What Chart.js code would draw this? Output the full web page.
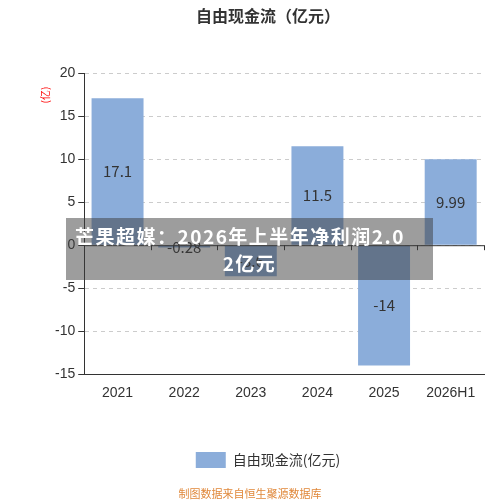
<!DOCTYPE html>
<html><head><meta charset="utf-8">
<script src="https://cdn.jsdelivr.net/npm/chart.js@4"></script>
<style>
body{margin:0;width:500px;height:500px;background:#fff;font-family:"Noto Sans CJK SC",sans-serif;position:relative;overflow:hidden}
#wrap{position:absolute;left:0;top:0;width:500px;height:500px}
#banner{position:absolute;left:66px;top:218px;width:367px;height:62px;background:rgba(60,60,60,0.5);color:#fff;font-weight:bold;font-size:19px;letter-spacing:1.5px;line-height:27px;text-align:left;padding:4px 0 0 9px;box-sizing:border-box;white-space:nowrap}
#banner span{display:block;text-align:center;padding-right:9px}
#foot{position:absolute;left:0;width:500px;top:485px;text-align:center;font-size:11px;color:#e0883a}
</style></head><body>
<div id="wrap"><canvas id="c" width="500" height="500"></canvas></div>
<div id="banner">芒果超媒：2026年上半年净利润2.0<span>2亿元</span></div>
<div id="foot">制图数据来自恒生聚源数据库</div>
<script>
const categories = ['2021', '2022', '2023', '2024', '2025', '2026H1'];
const cashFlow = [17.1, -0.28, -3.6, 11.5, -14, 9.99];
const yTicks = [20, 15, 10, 5, 0, -5, -10, -15];

const valueLabels = {
  id: 'valueLabels',
  afterDatasetsDraw(chart) {
    const ctx = chart.ctx;
    const meta = chart.getDatasetMeta(0);
    const y = chart.scales.y, x = chart.scales.x;
    const y0 = y.getPixelForValue(0);
    ctx.save();
    ctx.strokeStyle = '#333'; ctx.lineWidth = 1;
    ctx.beginPath(); ctx.moveTo(x.left, y0 + 0.5); ctx.lineTo(x.right, y0 + 0.5);
    for (let i = 0; i <= categories.length; i++) {
      const px = Math.round(x.left + (x.right - x.left) * i / categories.length) + 0.5;
      ctx.moveTo(px, y0); ctx.lineTo(px, y0 + 5);
    }
    ctx.stroke();
    ctx.fillStyle = '#333'; ctx.font = '15px "Noto Sans CJK SC", sans-serif';
    ctx.textAlign = 'center'; ctx.textBaseline = 'middle';
    meta.data.forEach((bar, i) => {
      const v = cashFlow[i];
      const cy = Math.abs(v) < 1 ? y0 + 2 : (bar.y + bar.base) / 2;
      ctx.fillText(String(v), bar.x, cy);
    });
    ctx.fillStyle = 'red'; ctx.font = '10px "Noto Sans CJK SC", sans-serif';
    ctx.translate(45, 95); ctx.rotate(-Math.PI / 2);
    ctx.fillText('(亿)', 0, 0);
    ctx.restore();
  }
};

new Chart(document.getElementById('c'), {
  type: 'bar',
  data: {
    labels: categories,
    datasets: [{
      label: '自由现金流(亿元)',
      data: cashFlow,
      backgroundColor: '#8badda',
      categoryPercentage: 1,
      barPercentage: 0.78
    }]
  },
  options: {
    responsive: false,
    animation: false,
    layout: { padding: { left: 52, right: 16, top: 0, bottom: 22 } },
    plugins: {
      title: { display: true, text: '自由现金流（亿元）', color: '#333', font: { size: 16, weight: 'bold', family: '"Noto Sans CJK SC"' }, padding: { top: 6, bottom: 48 } },
      legend: { position: 'bottom', labels: { color: '#333', boxWidth: 30, boxHeight: 16, font: { size: 14, family: '"Noto Sans CJK SC"' }, padding: 47 } },
      tooltip: { enabled: false }
    },
    scales: {
      x: {
        grid: { display: false },
        border: { color: '#333' },
        ticks: { color: '#333', font: { size: 14 } }
      },
      y: {
        min: -15, max: 20,
        afterBuildTicks: axis => { axis.ticks = yTicks.map(v => ({ value: v })); },
        grid: { color: '#ccc', tickColor: '#333', tickLength: 6, drawTicks: true },
        border: { color: '#333', dash: [4, 4] },
        ticks: { color: '#333', font: { size: 14 } }
      }
    }
  },
  plugins: [valueLabels]
});
</script>
</body></html>
